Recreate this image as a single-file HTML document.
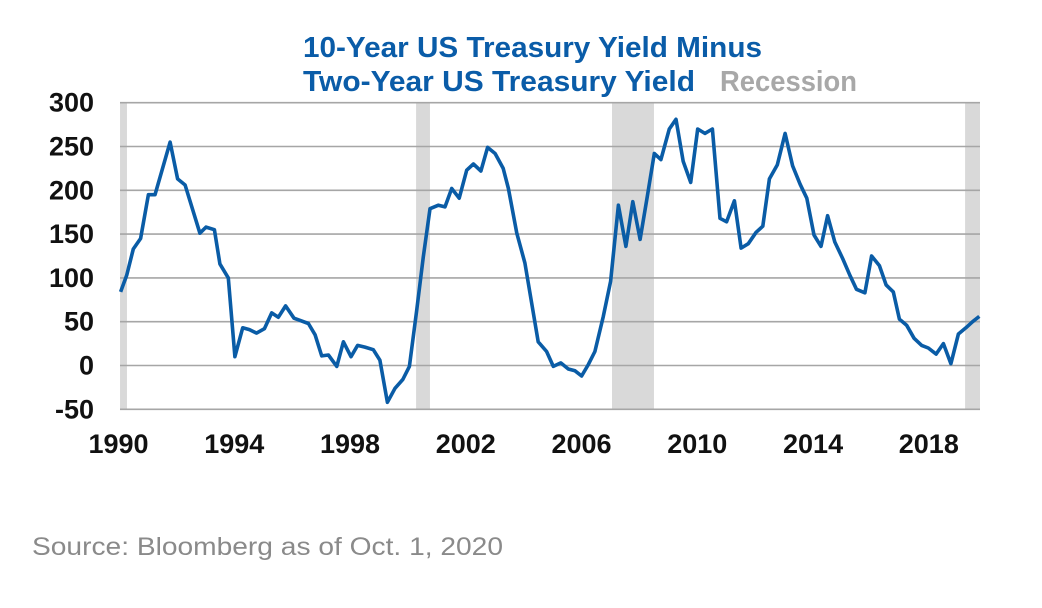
<!DOCTYPE html>
<html><head><meta charset="utf-8"><style>
html,body{margin:0;padding:0;background:#fff;width:1042px;height:608px;overflow:hidden}
svg{display:block}
text{font-family:"Liberation Sans",sans-serif}
</style></head><body>
<svg width="1042" height="608" viewBox="0 0 1042 608">
<text x="303" y="57" font-size="29" font-weight="bold" fill="#0a5ca8" textLength="459" lengthAdjust="spacingAndGlyphs">10-Year US Treasury Yield Minus</text>
<text x="303" y="91" font-size="29" font-weight="bold" fill="#0a5ca8" textLength="392" lengthAdjust="spacingAndGlyphs">Two-Year US Treasury Yield</text>
<text x="720" y="91" font-size="29" font-weight="bold" fill="#a8a8a8" textLength="137" lengthAdjust="spacingAndGlyphs">Recession</text>
<g id="rec"></g>
<g id="grid"></g>
<g id="ylab"></g>
<g id="xlab"></g>
<path id="line" fill="none" stroke="#0a5ca6" stroke-width="3.6" stroke-linejoin="round"/>
<text x="32" y="555" font-size="25" fill="#8a8a8a" textLength="471" lengthAdjust="spacingAndGlyphs">Source: Bloomberg as of Oct. 1, 2020</text>
</svg>
<script>
const dates=[1990.09,1990.30,1990.53,1990.78,1991.05,1991.28,1991.80,1992.06,1992.32,1992.83,1993.04,1993.33,1993.52,1993.81,1994.04,1994.31,1994.54,1994.79,1995.06,1995.31,1995.54,1995.79,1996.08,1996.58,1996.81,1997.04,1997.27,1997.56,1997.79,1998.05,1998.28,1998.53,1998.82,1999.05,1999.31,1999.57,1999.84,2000.07,2000.32,2000.55,2000.78,2001.07,2001.30,2001.53,2001.79,2002.05,2002.28,2002.54,2002.77,2003.03,2003.31,2003.49,2003.78,2004.06,2004.52,2004.81,2005.04,2005.30,2005.56,2005.79,2006.02,2006.25,2006.48,2006.77,2007.02,2007.29,2007.55,2007.79,2008.04,2008.29,2008.53,2008.76,2009.05,2009.28,2009.53,2009.79,2010.03,2010.28,2010.54,2010.80,2011.03,2011.30,2011.53,2011.78,2012.05,2012.28,2012.51,2012.78,2013.05,2013.31,2013.57,2013.80,2014.05,2014.29,2014.52,2014.77,2015.04,2015.29,2015.52,2015.81,2016.04,2016.31,2016.54,2016.79,2017.00,2017.25,2017.51,2017.77,2018.00,2018.27,2018.52,2018.78,2019.04,2019.30,2019.53,2019.76];
const spread=[84,103,133,145,195,195,255,213,206,151,158,155,116,100,10,43,41,37,42,60,55,68,54,48,35,11,12,-1,27,10,23,21,18,6,-42,-26,-16,-1,63,124,179,183,181,202,191,223,230,222,249,242,225,202,151,117,27,16,-1,3,-4,-6,-12,1,16,56,96,183,136,187,144,193,242,235,270,281,233,209,270,265,270,168,164,188,134,139,152,159,213,229,265,228,207,191,149,136,171,141,122,103,87,83,125,114,92,84,53,46,31,23,20,13,25,2,36,43,50,56];
const recStart=[1990.07,2000.30,2007.07,2019.27];
const recEnd=[1990.31,2000.78,2008.52,2019.85];
const yTicks=[300,250,200,150,100,50,0,-50];
const xTicks=[1990,1994,1998,2002,2006,2010,2014,2018];
const L=120,R=980,T=102,B=409;
const X=y=>118+(y-1990)*28.94;
const Y=v=>365.5-v*43.8/50;
const NS="http://www.w3.org/2000/svg";
function mk(t,a,p){const e=document.createElementNS(NS,t);for(const k in a)e.setAttribute(k,a[k]);p.appendChild(e);return e;}
const rec=document.getElementById('rec');
recStart.forEach((s,i)=>{const x0=Math.max(L,X(s)),x1=Math.min(R,X(recEnd[i]));
const r=mk('rect',{x:x0,y:T,width:x1-x0,height:B-T,fill:'#d9d9d9'},rec);

});
const g=document.getElementById('grid'),yl=document.getElementById('ylab'),xl=document.getElementById('xlab');
yTicks.forEach(v=>{const l=mk('line',{x1:L,x2:R,y1:Y(v),y2:Y(v),stroke:'#a6a6a6','stroke-width':1.6},g);


const t=mk('text',{x:94,y:Y(v)+9,'text-anchor':'end','font-size':27,'font-weight':'bold',fill:'#111'},yl);t.textContent=v;

});
xTicks.forEach(v=>{const t=mk('text',{x:X(v)+0.5,y:453,'text-anchor':'middle','font-size':27,'font-weight':'bold',fill:'#111'},xl);t.textContent=v;

});
document.getElementById('line').setAttribute('d',dates.map((d,i)=>(i?'L':'M')+X(d).toFixed(1)+','+Y(spread[i]).toFixed(1)).join(''));
</script>
</body></html>
